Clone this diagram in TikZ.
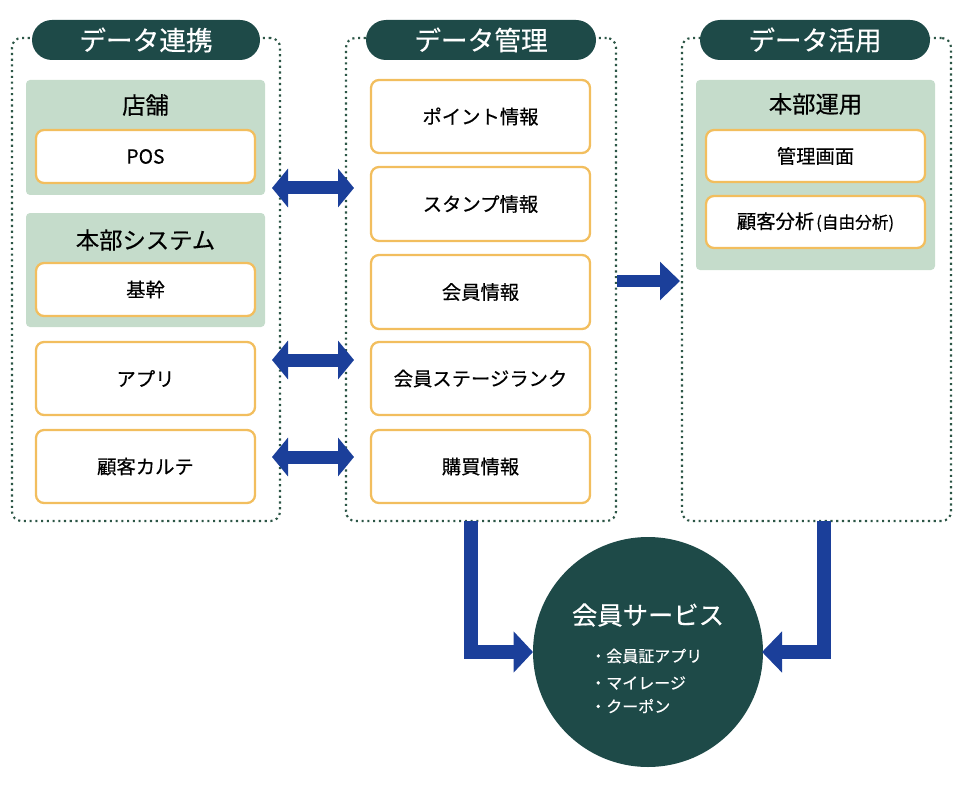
\documentclass[tikz,border=0pt]{standalone}
\usepackage{fontspec}
\setmainfont[FakeBold=0.4]{Noto Sans CJK JP}
\usetikzlibrary{arrows.meta}
\definecolor{hdcol}{HTML}{1E4A48}
\definecolor{grpcol}{HTML}{C5DCCB}
\definecolor{orcol}{HTML}{F2BE5E}
\definecolor{arcol}{HTML}{1B3F9A}
\definecolor{dotcol}{HTML}{2C5646}
\newcommand\hdfont{\fontsize{20pt}{24pt}\selectfont}
\newcommand\grfont{\fontsize{17.5pt}{21pt}\selectfont}
\newcommand\itfont{\fontsize{14.5pt}{17pt}\selectfont}
\newcommand\smfont{\fontsize{12.5pt}{14pt}\selectfont}
\tikzset{
  panel/.style={draw=dotcol, line width=1.6pt, dash pattern=on 1.6pt off 2.7pt, rounded corners=7pt, minimum width=#1, minimum height=362.25pt, inner sep=0pt},
  header/.style={fill=hdcol, rounded corners=15pt, text=white, font=\hdfont, minimum height=30pt, minimum width=#1, inner sep=0pt},
  grp/.style={fill=grpcol, rounded corners=3pt, minimum width=179.25pt, inner sep=0pt},
  grptitle/.style={font=\grfont, text=black, inner sep=0pt},
  item/.style={draw=orcol, line width=1.7pt, fill=white, rounded corners=6pt, minimum width=164.25pt, font=\itfont, inner sep=0pt},
  arr/.style={draw=arcol, line width=10pt},
  arrb/.style={arr, line width=9.75pt, {Triangle[length=12pt,width=28.5pt]}-{Triangle[length=12pt,width=28.5pt]}},
}
\begin{document}
\begin{tikzpicture}[x=0.75pt,y=-0.75pt]
\useasboundingbox (0,0) rectangle (960,788);
% panels
\node[panel=201pt] (pl) at (146,279.5) {};
\node[panel=202.5pt] (pm) at (481,279.5) {};
\node[panel=201.75pt] (pr) at (816.5,279.5) {};
\node[header=171pt] (hl) at (146,40) {データ連携};
\node[header=172.5pt] (hm) at (481,40) {データ管理};
\node[header=172.5pt] (hr) at (815,40) {データ活用};
% left column
\node[grp, minimum height=86.25pt] (g1) at (145.5,137.5) {};
\node[grptitle] (g1t) at (145.5,105) {店舗};
\node[item, minimum height=39.75pt] (pos) at (145.5,156.5) {POS};
\node[grp, minimum height=85.5pt] (g2) at (145.5,270) {};
\node[grptitle] (g2t) at (145.5,240) {本部システム};
\node[item, minimum height=39.75pt] (kik) at (145.5,289.5) {基幹};
\node[item, minimum height=54.75pt] (app) at (145.5,378.5) {アプリ};
\node[item, minimum height=54.75pt] (kar) at (145.5,466.5) {顧客カルテ};
% middle column
\node[item, minimum height=54.75pt] (m1) at (480.5,116.5) {ポイント情報};
\node[item, minimum height=55.5pt] (m2) at (480.5,204) {スタンプ情報};
\node[item, minimum height=55.5pt] (m3) at (480.5,292) {会員情報};
\node[item, minimum height=54.75pt] (m4) at (480.5,378.5) {会員ステージランク};
\node[item, minimum height=54.75pt] (m5) at (480.5,466.5) {購買情報};
% right column
\node[grp, minimum height=142.5pt] (g3) at (815.5,175) {};
\node[grptitle] (g3t) at (815.5,104) {本部運用};
\node[item, minimum height=39pt] (r1) at (815.5,156) {管理画面};
\node[item, minimum height=39pt] (r2) at (815.5,222) {顧客分析{\smfont\hspace{1.5pt}(自由分析)}};
% circle
\node[circle, fill=hdcol, minimum size=172.5pt, inner sep=0pt] (svc) at (648,652) {};
\node[text=white, font=\fontsize{19pt}{22pt}\selectfont, inner sep=0pt] (svct) at (648,615) {会員サービス};
\node[text=white, font=\fontsize{12pt}{14pt}\selectfont, inner sep=0pt, anchor=west] (s1) at (590,656) {・会員証アプリ};
\node[text=white, font=\fontsize{12pt}{14pt}\selectfont, inner sep=0pt, anchor=west] (s2) at (590,683) {・マイレージ};
\node[text=white, font=\fontsize{12pt}{14pt}\selectfont, inner sep=0pt, anchor=west] (s3) at (590,706) {・クーポン};
% arrow end points
\coordinate (a1l) at (272,188); \coordinate (a1r) at (354,188);
\coordinate (a2l) at (272,360); \coordinate (a2r) at (354,360);
\coordinate (a3l) at (272,457); \coordinate (a3r) at (354,457);
\coordinate (a4l) at (617,281); \coordinate (a4r) at (680,281);
\coordinate (e1s) at (471,521); \coordinate (e1t) at (533,652);
\coordinate (e2s) at (824,521); \coordinate (e2t) at (762,652);
\draw[arrb] (a1l) -- (a1r);
\draw[arrb] (a2l) -- (a2r);
\draw[arrb] (a3l) -- (a3r);
\draw[arr, line width=9.5pt, -{Triangle[length=15pt,width=28pt]}] (a4l) -- (a4r);
\draw[arr, line width=10pt, -{Triangle[length=14.5pt,width=30pt]}] (e1s) |- (e1t);
\draw[arr, line width=10pt, -{Triangle[length=15pt,width=30pt]}] (e2s) |- (e2t);
\end{tikzpicture}
\end{document}
